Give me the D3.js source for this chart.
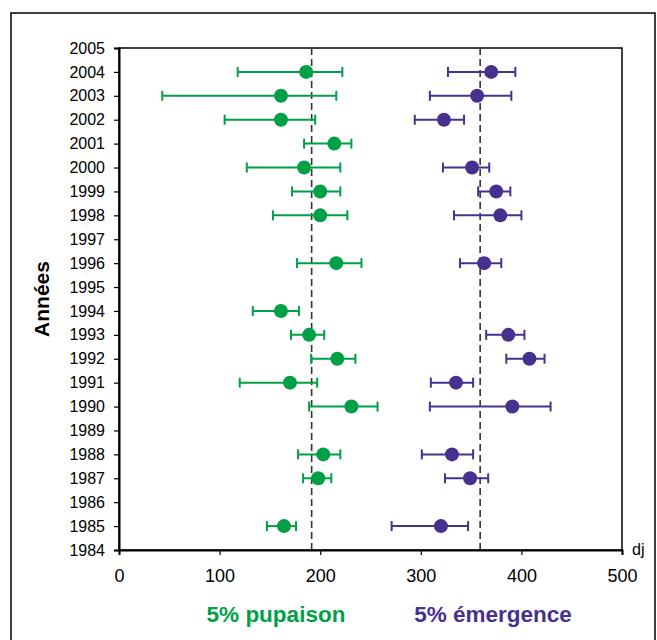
<!DOCTYPE html>
<html>
<head>
<meta charset="utf-8">
<script src="https://cdn.jsdelivr.net/npm/d3@7"></script>
<style>
  body { margin: 0; background: #fff; }
  svg { display: block; font-family: "Liberation Sans", Arial, sans-serif; }
</style>
</head>
<body>
<svg id="chart" width="657" height="640"></svg>
<script>
// years shown on the axis
const yearTicks = d3.range(1984, 2006);
const xTicks = [0, 100, 200, 300, 400, 500];

// 5% pupaison (dj): year, low, value, high
const pupYears = [2004, 2003, 2002, 2001, 2000, 1999, 1998, 1996, 1994, 1993, 1992, 1991, 1990, 1988, 1987, 1985];
const pupLow   = [118, 43, 105, 184, 127, 172, 153, 177, 133, 171, 191, 120, 189, 178, 183, 147];
const pupValue = [186, 161, 161, 214, 184, 200, 200, 216, 161, 189, 217, 170, 231, 203, 198, 164];
const pupHigh  = [222, 216, 195, 231, 220, 220, 227, 241, 179, 204, 235, 197, 257, 220, 211, 176];

// 5% émergence (dj)
const emeYears = [2004, 2003, 2002, 2000, 1999, 1998, 1996, 1993, 1992, 1991, 1990, 1988, 1987, 1985];
const emeLow   = [327, 309, 294, 322, 357, 333, 339, 365, 385, 310, 309, 301, 324, 271];
const emeValue = [370, 356, 323, 351, 375, 379, 363, 387, 408, 335, 391, 331, 349, 320];
const emeHigh  = [394, 390, 343, 368, 389, 400, 380, 403, 423, 352, 429, 352, 367, 347];

// mean reference lines
const refLines = [191.5, 359];

const green  = '#00a046';
const purple = '#47318f';

const svg = d3.select('#chart');
const pLeft = 119, pRight = 622, pTop = 48, pBottom = 550;

const x = d3.scaleLinear().domain([0, 500]).range([pLeft, pRight]);
const y = d3.scaleLinear().domain([1984, 2005]).range([pBottom, pTop]);

// outer frame
svg.append('rect')
    .attr('x', 11).attr('y', 13)
    .attr('width', 644).attr('height', 640)
    .attr('fill', 'none')
    .attr('stroke', '#000')
    .attr('stroke-width', 1.5);

// plot box
svg.append('rect')
    .attr('x', pLeft).attr('y', pTop)
    .attr('width', pRight - pLeft).attr('height', pBottom - pTop)
    .attr('fill', 'none')
    .attr('stroke', '#000')
    .attr('stroke-width', 1.5);

const yAxis = svg.append('g')
    .attr('transform', `translate(${pLeft},0)`)
    .call(d3.axisLeft(y).tickValues(yearTicks).tickFormat(d3.format('d')).tickSize(5).tickPadding(9))
    .attr('font-family', null).attr('font-size', 16);
yAxis.select('.domain').attr('stroke-width', 2);
yAxis.selectAll('.tick line').attr('stroke-width', 1.2);
yAxis.selectAll('text').attr('fill', '#000');

const xAxis = svg.append('g')
    .attr('transform', `translate(0,${pBottom})`)
    .call(d3.axisBottom(x).tickValues(xTicks).tickSize(5).tickPadding(14))
    .attr('font-family', null).attr('font-size', 18);
xAxis.select('.domain').attr('stroke-width', 2);
xAxis.selectAll('.tick line').attr('stroke-width', 1.2);
xAxis.selectAll('text').attr('fill', '#000');

// dashed reference lines
svg.selectAll('line.ref')
  .data(refLines)
  .join('line')
    .attr('class', 'ref')
    .attr('x1', d => x(d)).attr('x2', d => x(d))
    .attr('y1', pTop).attr('y2', pBottom)
    .attr('stroke', '#333')
    .attr('stroke-width', 1.6)
    .attr('stroke-dasharray', '7,4');

function drawSeries(years, low, value, high, color) {
  const rows = years.map((yr, i) => ({ yr, lo: low[i], v: value[i], hi: high[i] }));
  const g = svg.append('g');
  const cap = 5;
  g.selectAll('line.bar').data(rows).join('line')
      .attr('x1', d => x(d.lo)).attr('x2', d => x(d.hi))
      .attr('y1', d => y(d.yr)).attr('y2', d => y(d.yr))
      .attr('stroke', color).attr('stroke-width', 2);
  g.selectAll('line.capl').data(rows).join('line')
      .attr('x1', d => x(d.lo)).attr('x2', d => x(d.lo))
      .attr('y1', d => y(d.yr) - cap).attr('y2', d => y(d.yr) + cap)
      .attr('stroke', color).attr('stroke-width', 2);
  g.selectAll('line.caph').data(rows).join('line')
      .attr('x1', d => x(d.hi)).attr('x2', d => x(d.hi))
      .attr('y1', d => y(d.yr) - cap).attr('y2', d => y(d.yr) + cap)
      .attr('stroke', color).attr('stroke-width', 2);
  g.selectAll('circle').data(rows).join('circle')
      .attr('cx', d => x(d.v)).attr('cy', d => y(d.yr))
      .attr('r', 7)
      .attr('fill', color);
}

drawSeries(pupYears, pupLow, pupValue, pupHigh, green);
drawSeries(emeYears, emeLow, emeValue, emeHigh, purple);

// axis titles
svg.append('text')
    .attr('transform', 'translate(49,299) rotate(-90)')
    .attr('text-anchor', 'middle')
    .attr('font-size', 21).attr('font-weight', 'bold')
    .text('Années');

svg.append('text')
    .attr('x', 632).attr('y', 555)
    .attr('font-size', 16)
    .text('dj');

// legend labels
svg.append('text')
    .attr('x', 276).attr('y', 622)
    .attr('text-anchor', 'middle')
    .attr('font-size', 22.5).attr('font-weight', 'bold')
    .attr('fill', green)
    .text('5% pupaison');

svg.append('text')
    .attr('x', 493).attr('y', 622)
    .attr('text-anchor', 'middle')
    .attr('font-size', 22.5).attr('font-weight', 'bold')
    .attr('fill', purple)
    .text('5% émergence');
</script>
</body>
</html>
